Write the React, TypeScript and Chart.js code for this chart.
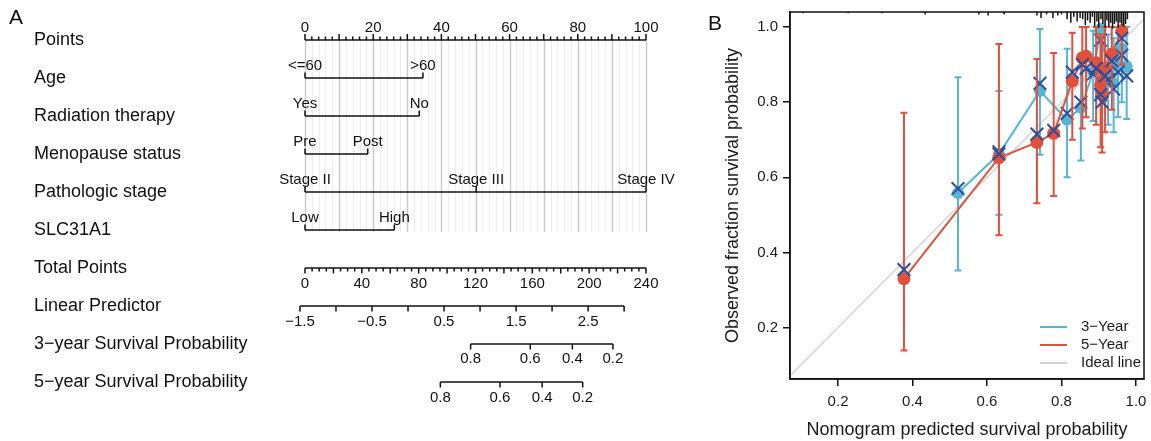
import React, { useEffect, useRef } from 'react';
import { Chart, registerables } from 'chart.js';

Chart.register(...registerables);

const FONT = "'Liberation Sans', Arial, Helvetica, sans-serif";
const INK = '#111111';

// ---------------- Panel A (nomogram) data ----------------
const rowLabels = [
  'Points',
  'Age',
  'Radiation therapy',
  'Menopause status',
  'Pathologic stage',
  'SLC31A1',
  'Total Points',
  'Linear Predictor',
  '3\u2212year Survival Probability',
  '5\u2212year Survival Probability',
];
const pointsTickLabels = [0, 20, 40, 60, 80, 100];
const ageLevels = ['<=60', '>60'];
const agePoints = [0, 34.6];
const radiationLevels = ['Yes', 'No'];
const radiationPoints = [0, 33.5];
const menopauseLevels = ['Pre', 'Post'];
const menopausePoints = [0, 18.4];
const stageLevels = ['Stage II', 'Stage III', 'Stage IV'];
const stagePoints = [0, 50.2, 100];
const slcLevels = ['Low', 'High'];
const slcPoints = [0, 26.2];
const totalPointsTicks = [0, 40, 80, 120, 160, 200, 240];
const totalPointsMax = 240;
const lpTickLabels = [-1.5, -0.5, 0.5, 1.5, 2.5];
const lpRange = [-1.5, 3.0];
const lpAtZeroTotal = -1.43;
const totalPerLpUnit = 50.7;
const surv3Ticks = [0.8, 0.6, 0.4, 0.2];
const surv5Ticks = [0.8, 0.6, 0.4, 0.2];
const surv3Offset = 2.369;
const surv5Offset = 1.949;

// ---------------- Panel B (calibration) data ----------------
const cal3Pred = [0.522, 0.632, 0.742, 0.815, 0.852, 0.885, 0.905, 0.925, 0.94, 0.952, 0.962, 0.975];
const cal3Obs = [0.558, 0.662, 0.83, 0.753, 0.785, 0.88, 0.995, 0.87, 0.85, 0.902, 0.942, 0.895];
const cal3Lower = [0.352, 0.5, 0.66, 0.6, 0.645, 0.75, 0.88, 0.74, 0.72, 0.76, 0.8, 0.755];
const cal3Upper = [0.866, 0.83, 0.995, 0.942, 0.92, 0.99, 1.0, 0.98, 0.97, 1.0, 1.0, 1.0];
const cal3Corrected = [0.57, 0.668, 0.85, 0.77, 0.8, 0.875, 0.965, 0.86, 0.835, 0.88, 0.925, 0.87];

const cal5Pred = [0.377, 0.632, 0.734, 0.779, 0.829, 0.856, 0.866, 0.893, 0.905, 0.909, 0.917, 0.935, 0.962];
const cal5Obs = [0.33, 0.652, 0.693, 0.717, 0.856, 0.918, 0.922, 0.905, 0.845, 0.822, 0.89, 0.928, 0.99];
const cal5Lower = [0.139, 0.446, 0.531, 0.55, 0.7, 0.73, 0.76, 0.74, 0.68, 0.666, 0.72, 0.78, 0.9];
const cal5Upper = [0.772, 0.955, 0.915, 0.931, 0.985, 1.0, 1.0, 1.0, 0.98, 0.97, 1.0, 1.0, 1.0];
const cal5Corrected = [0.354, 0.662, 0.715, 0.725, 0.88, 0.9, 0.89, 0.89, 0.82, 0.8, 0.87, 0.91, 0.97];

const rugPred = [0.106, 0.227, 0.318, 0.434, 0.578, 0.603, 0.646, 0.734, 0.745, 0.76, 0.777, 0.79, 0.8, 0.815, 0.825, 0.833, 0.842, 0.85, 0.857, 0.864, 0.87, 0.877, 0.883, 0.889, 0.895, 0.9, 0.906, 0.911, 0.917, 0.922, 0.927, 0.932, 0.937, 0.942, 0.947, 0.952, 0.957, 0.962, 0.967, 0.972, 0.977];
const rugFreq = [1, 1, 1, 2, 2, 3, 2, 3, 5, 2, 5, 3, 2, 6, 9, 4, 8, 5, 6, 11, 7, 9, 4, 12, 8, 13, 6, 10, 13, 7, 12, 9, 14, 10, 8, 13, 9, 11, 12, 10, 6];

const axisTicksB = [0.2, 0.4, 0.6, 0.8, 1.0];
const legendLabelsB = ['3\u2212Year', '5\u2212Year', 'Ideal line'];

// ---------------- colours / layout ----------------
const BLUE = '#55B5D3';
const RED = '#E0503A';
const XBLUE = '#2D4E9E';
const IDEAL = '#D2D2D2';

const ROW0_PX = 40;
const ROW_STEP_PX = 38;
const HEIGHT = 441;

// nomogram transforms (model scale -> points scale)
const totalToPts = (t: number) => (t * 100) / totalPointsMax;
const lpToPts = (lp: number) => totalToPts((lp - lpAtZeroTotal) * totalPerLpUnit);
const survToPts = (s: number, off: number) => lpToPts(off + Math.log(-Math.log(s)));

const nomogramAxes = [
  { row: 0, from: 0, to: 100 },
  { row: 1, from: agePoints[0], to: agePoints[agePoints.length - 1] },
  { row: 2, from: radiationPoints[0], to: radiationPoints[radiationPoints.length - 1] },
  { row: 3, from: menopausePoints[0], to: menopausePoints[menopausePoints.length - 1] },
  { row: 4, from: stagePoints[0], to: stagePoints[stagePoints.length - 1] },
  { row: 5, from: slcPoints[0], to: slcPoints[slcPoints.length - 1] },
  { row: 6, from: totalToPts(0), to: totalToPts(totalPointsMax) },
  { row: 7, from: lpToPts(lpRange[0]), to: lpToPts(lpRange[1]) },
  { row: 8, from: survToPts(surv3Ticks[0], surv3Offset), to: survToPts(surv3Ticks[surv3Ticks.length - 1], surv3Offset) },
  { row: 9, from: survToPts(surv5Ticks[0], surv5Offset), to: survToPts(surv5Ticks[surv5Ticks.length - 1], surv5Offset) },
];

const variableRows = [
  { row: 1, levels: ageLevels, pts: agePoints },
  { row: 2, levels: radiationLevels, pts: radiationPoints },
  { row: 3, levels: menopauseLevels, pts: menopausePoints },
  { row: 4, levels: stageLevels, pts: stagePoints },
  { row: 5, levels: slcLevels, pts: slcPoints },
];

const fmtLp = (v: number) => (v < 0 ? '\u2212' + Math.abs(v).toFixed(1) : v.toFixed(1));

const nomogramPlugin = {
  id: 'nomogram',
  beforeDatasetsDraw(chart: any) {
    const { ctx } = chart;
    const xs = chart.scales.x;
    const ys = chart.scales.y;
    const top = ys.getPixelForValue(0);
    const bottom = ys.getPixelForValue(5) + 2;
    ctx.save();
    for (let p = 0; p <= 100; p += 2) {
      const px = Math.round(xs.getPixelForValue(p)) + 0.5;
      const major = p % 10 === 0;
      ctx.strokeStyle = major ? '#c9c9c9' : '#ececec';
      ctx.lineWidth = major ? 1.4 : 1;
      ctx.beginPath();
      ctx.moveTo(px, top);
      ctx.lineTo(px, bottom);
      ctx.stroke();
    }
    ctx.restore();
  },
  afterDatasetsDraw(chart: any) {
    const { ctx } = chart;
    const xs = chart.scales.x;
    const ys = chart.scales.y;
    const X = (v: number) => xs.getPixelForValue(v);
    const Y = (r: number) => ys.getPixelForValue(r);
    ctx.save();
    ctx.strokeStyle = INK;
    ctx.fillStyle = INK;
    ctx.lineWidth = 1.5;
    ctx.lineCap = 'butt';

    const tick = (px: number, y: number, len: number) => {
      ctx.beginPath();
      ctx.moveTo(px, y);
      ctx.lineTo(px, y + len);
      ctx.stroke();
    };
    const label = (t: string, px: number, y: number) => {
      ctx.fillText(t, px, y);
    };

    // panel letter
    ctx.font = `21px ${FONT}`;
    ctx.textAlign = 'left';
    ctx.textBaseline = 'alphabetic';
    ctx.fillText('A', 9, 24);

    // row labels
    ctx.font = `18px ${FONT}`;
    rowLabels.forEach((t, i) => ctx.fillText(t, 34, Y(i) + 5));

    ctx.font = `15px ${FONT}`;
    ctx.textAlign = 'center';

    // Points axis (ticks up)
    const y0 = Y(0);
    for (let p = 0; p <= 100; p += 2) {
      tick(X(p), y0, p % 10 === 0 ? -6 : -3.5);
    }
    pointsTickLabels.forEach((p) => label(String(p), X(p), y0 - 8));

    // variable axes
    variableRows.forEach(({ row, levels, pts }) => {
      const y = Y(row);
      pts.forEach((p, k) => {
        tick(X(p), y, -5.5);
        label(levels[k], X(p), y - 8);
      });
    });

    // Total points (ticks down)
    const y6 = Y(6);
    for (let t = 0; t <= totalPointsMax; t += 5) {
      tick(X(totalToPts(t)), y6, t % 20 === 0 ? 5.5 : 3.5);
    }
    totalPointsTicks.forEach((t) => label(String(t), X(totalToPts(t)), y6 + 20));

    // Linear predictor
    const y7 = Y(7);
    for (let v = lpRange[0]; v <= lpRange[1] + 1e-9; v += 0.5) {
      tick(X(lpToPts(v)), y7, 5.5);
    }
    lpTickLabels.forEach((v) => label(fmtLp(v), X(lpToPts(v)), y7 + 20));

    // Survival axes
    const y8 = Y(8);
    surv3Ticks.forEach((s) => {
      const px = X(survToPts(s, surv3Offset));
      tick(px, y8, 5.5);
      label(s.toFixed(1), px, y8 + 19);
    });
    const y9 = Y(9);
    surv5Ticks.forEach((s) => {
      const px = X(survToPts(s, surv5Offset));
      tick(px, y9, 5.5);
      label(s.toFixed(1), px, y9 + 20);
    });
    ctx.restore();
  },
};

const errorBarPlugin = {
  id: 'errorBars',
  beforeDatasetDraw(chart: any, args: any) {
    const ds = chart.data.datasets[args.index];
    if (!ds.errLo) return;
    const { ctx } = chart;
    const xs = chart.scales.x;
    const ys = chart.scales.y;
    ctx.save();
    ctx.strokeStyle = ds.borderColor;
    ctx.lineWidth = 2;
    ds.data.forEach((pt: any, i: number) => {
      const px = xs.getPixelForValue(pt.x);
      const lo = ys.getPixelForValue(ds.errLo[i]);
      const hi = ys.getPixelForValue(ds.errHi[i]);
      ctx.beginPath();
      ctx.moveTo(px, lo);
      ctx.lineTo(px, hi);
      ctx.moveTo(px - 3.5, lo);
      ctx.lineTo(px + 3.5, lo);
      ctx.moveTo(px - 3.5, hi);
      ctx.lineTo(px + 3.5, hi);
      ctx.stroke();
    });
    ctx.restore();
  },
};

const calibDecorPlugin = {
  id: 'calibDecor',
  afterDatasetsDraw(chart: any) {
    const { ctx, chartArea } = chart;
    const xs = chart.scales.x;
    ctx.save();
    // rug (risk distribution) from the top
    ctx.strokeStyle = INK;
    ctx.lineWidth = 1.5;
    rugPred.forEach((v, i) => {
      const px = xs.getPixelForValue(v);
      ctx.beginPath();
      ctx.moveTo(px, chartArea.top);
      ctx.lineTo(px, chartArea.top + rugFreq[i] * 1.2);
      ctx.stroke();
    });
    // box
    ctx.lineWidth = 1.5;
    ctx.strokeRect(chartArea.left, chartArea.top, chartArea.right - chartArea.left, chartArea.bottom - chartArea.top);
    // legend
    const colors = [BLUE, RED, IDEAL];
    ctx.font = `15px ${FONT}`;
    ctx.textAlign = 'left';
    ctx.textBaseline = 'middle';
    legendLabelsB.forEach((t, i) => {
      const y = chartArea.bottom - 52 + i * 18;
      ctx.strokeStyle = colors[i];
      ctx.lineWidth = 2;
      ctx.beginPath();
      ctx.moveTo(chartArea.right - 104, y);
      ctx.lineTo(chartArea.right - 77, y);
      ctx.stroke();
      ctx.fillStyle = '#1a1a1a';
      ctx.fillText(t, chartArea.right - 63, y);
    });
    // panel letter
    ctx.font = `21px ${FONT}`;
    ctx.textBaseline = 'alphabetic';
    ctx.fillStyle = INK;
    ctx.fillText('B', 8, 30);
    ctx.restore();
  },
};

export default function App() {
  const refA = useRef<HTMLCanvasElement>(null);
  const refB = useRef<HTMLCanvasElement>(null);

  useEffect(() => {
    Chart.defaults.font.family = FONT;
    Chart.defaults.color = '#1a1a1a';

    const yMinA = -ROW0_PX / ROW_STEP_PX;
    const yMaxA = (HEIGHT - ROW0_PX) / ROW_STEP_PX;

    const chartA = new Chart(refA.current as HTMLCanvasElement, {
      type: 'line',
      data: {
        datasets: nomogramAxes.map((a) => ({
          data: [
            { x: a.from, y: a.row },
            { x: a.to, y: a.row },
          ],
          borderColor: INK,
          borderWidth: 1.5,
          pointRadius: 0,
          clip: false,
        })) as any,
      },
      options: {
        animation: false,
        responsive: false,
        maintainAspectRatio: false,
        layout: { autoPadding: false, padding: { left: 305, right: 54, top: 0, bottom: 0 } },
        scales: {
          x: { type: 'linear', min: 0, max: 100, display: false },
          y: { type: 'linear', min: yMinA, max: yMaxA, reverse: true, display: false },
        },
        plugins: { legend: { display: false }, tooltip: { enabled: false } },
      },
      plugins: [nomogramPlugin],
    });

    const toPts = (xs: number[], ys: number[]) => xs.map((x, i) => ({ x, y: ys[i] }));

    const axisCommon = (isX: boolean) => ({
      type: 'linear' as const,
      afterBuildTicks: (s: any) => {
        s.ticks = axisTicksB.map((v) => ({ value: v }));
      },
      afterFit: (s: any) => {
        if (isX) {
          s.height = 62;
          s.paddingLeft = 0;
          s.paddingRight = 0;
        } else {
          s.width = 90;
          s.paddingTop = 0;
          s.paddingBottom = 0;
        }
      },
      ticks: {
        font: { size: 15 },
        color: '#1a1a1a',
        padding: isX ? 7 : 5,
        callback: (v: any) => Number(v).toFixed(1),
      },
      grid: {
        display: true,
        drawOnChartArea: false,
        drawTicks: true,
        tickLength: 7,
        color: INK,
        lineWidth: 1.5,
      },
      border: { display: true, color: INK, width: 1.5 },
    });

    const chartB = new Chart(refB.current as HTMLCanvasElement, {
      type: 'line',
      data: {
        datasets: [
          {
            label: 'Ideal line',
            data: [
              { x: 0, y: 0 },
              { x: 1.2, y: 1.2 },
            ],
            borderColor: IDEAL,
            borderWidth: 1.5,
            pointRadius: 0,
            order: 5,
          },
          {
            label: '3-Year',
            data: toPts(cal3Pred, cal3Obs),
            errLo: cal3Lower,
            errHi: cal3Upper,
            borderColor: BLUE,
            backgroundColor: BLUE,
            borderWidth: 2,
            pointRadius: 6,
            pointBorderWidth: 0,
            order: 4,
          },
          {
            label: '3-Year corrected',
            data: toPts(cal3Pred, cal3Corrected),
            showLine: false,
            pointStyle: 'crossRot',
            pointRadius: 9,
            pointBorderWidth: 2,
            borderColor: XBLUE,
            backgroundColor: XBLUE,
            order: 3,
          },
          {
            label: '5-Year',
            data: toPts(cal5Pred, cal5Obs),
            errLo: cal5Lower,
            errHi: cal5Upper,
            borderColor: RED,
            backgroundColor: RED,
            borderWidth: 2,
            pointRadius: 6.5,
            pointBorderWidth: 0,
            order: 2,
          },
          {
            label: '5-Year corrected',
            data: toPts(cal5Pred, cal5Corrected),
            showLine: false,
            pointStyle: 'crossRot',
            pointRadius: 9,
            pointBorderWidth: 2,
            borderColor: XBLUE,
            backgroundColor: XBLUE,
            order: 1,
          },
        ] as any,
      },
      options: {
        animation: false,
        responsive: false,
        maintainAspectRatio: false,
        layout: { autoPadding: false, padding: { left: 0, right: 7, top: 12, bottom: 0 } },
        scales: {
          x: {
            ...axisCommon(true),
            position: 'bottom',
            min: 0.071,
            max: 1.0215,
            title: {
              display: true,
              text: 'Nomogram predicted survival probability',
              font: { size: 18 },
              color: '#1a1a1a',
              padding: { top: 0, bottom: 0 },
            },
          },
          y: {
            ...axisCommon(false),
            position: 'left',
            min: 0.063,
            max: 1.04,
            title: {
              display: true,
              text: 'Observed fraction survival probability',
              font: { size: 18 },
              color: '#1a1a1a',
              padding: { top: 22, bottom: 0 },
            },
          },
        } as any,
        plugins: { legend: { display: false }, tooltip: { enabled: false } },
      },
      plugins: [errorBarPlugin, calibDecorPlugin],
    });

    return () => {
      chartA.destroy();
      chartB.destroy();
    };
  }, []);

  return (
    <div style={{ position: 'absolute', left: 0, top: 0, width: 1151, height: 441, background: '#fff' }}>
      <canvas ref={refA} width={700} height={441} style={{ position: 'absolute', left: 0, top: 0 }} />
      <canvas ref={refB} width={451} height={441} style={{ position: 'absolute', left: 700, top: 0 }} />
    </div>
  );
}
